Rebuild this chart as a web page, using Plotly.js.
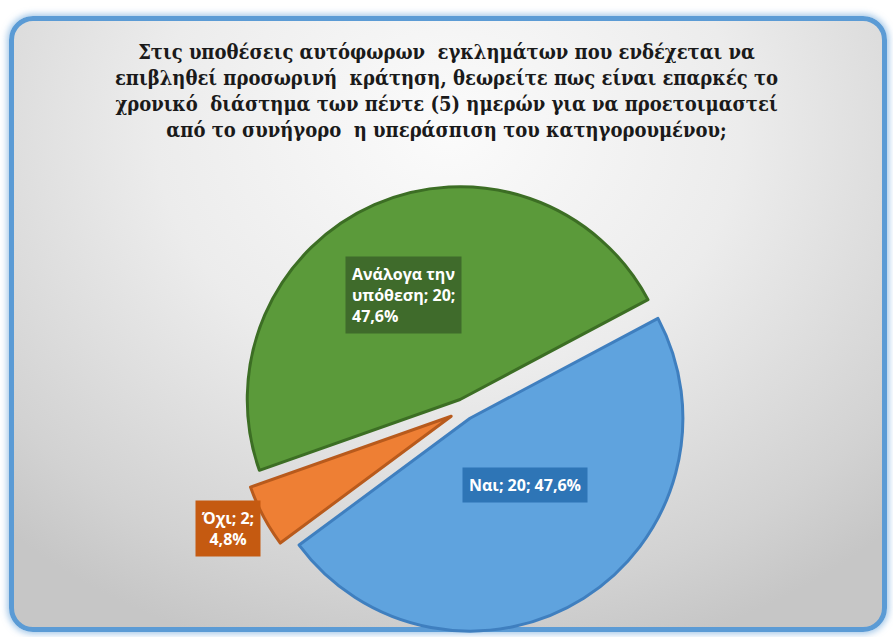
<!DOCTYPE html>
<html>
<head>
<meta charset="utf-8">
<script src="https://cdn.plot.ly/plotly-3.0.1.min.js"></script>
<style>
  html, body { margin:0; padding:0; background:#ffffff; }
  #wrap { position:relative; width:893px; height:637px; overflow:hidden; background:#ffffff; }
  #frame { position:absolute; left:9px; top:16px; width:868px; height:606px;
    border:5px solid #5b9bd5; border-radius:24px;
    box-shadow: 0 0 6px 2px rgba(91,155,213,0.55);
    background: radial-gradient(ellipse 75% 90% at 50% 18%, #fbfbfb 0%, #ececec 45%, #d2d2d2 85%, #c6c6c6 100%); }
  #chart { position:absolute; left:0; top:0; width:893px; height:637px; }
</style>
</head>
<body>
<div id="wrap">
  <div id="frame"></div>
  <div id="chart"></div>
</div>
<script>
const labels = ["Ναι", "Όχι", "Ανάλογα την υπόθεση"];
const values = [20, 2, 20];
const sliceColors = ["#5fa3de", "#ee7f34", "#5b9a3a"];
const edgeColors = ["#3f7fbf", "#b85a1c", "#3c6e24"];
const boxColors = ["#2e75b6", "#c55a11", "#3f6b2b"];
const titleText = "Στις υποθέσεις αυτόφωρων  εγκλημάτων που ενδέχεται να<br>επιβληθεί προσωρινή  κράτηση, θεωρείτε πως είναι επαρκές το<br>χρονικό  διάστημα των πέντε (5) ημερών για να προετοιμαστεί<br>από το συνήγορο  η υπεράσπιση του κατηγορουμένου;";

const total = values.reduce((a, b) => a + b, 0);
function pct(v) { return (v / total * 100).toFixed(1).replace('.', ',') + '%'; }

const labelTexts = [
  labels[0] + '; ' + values[0] + '; ' + pct(values[0]),
  labels[1] + '; ' + values[1] + ';<br>' + pct(values[1]),
  labels[2].replace(' υπόθεση', '<br>υπόθεση') + '; ' + values[2] + ';<br>' + pct(values[2])
];
const labelPos = [
  {x: 0.588, y: 0.239, align: 'center'},
  {x: 0.255, y: 0.171, align: 'center'},
  {x: 0.452, y: 0.537, align: 'left'}
];

const trace = {
  type: 'pie',
  labels: labels,
  values: values,
  sort: false,
  direction: 'clockwise',
  rotation: 62,
  pull: [0.05, 0.07, 0.05],
  textinfo: 'none',
  hoverinfo: 'label+value+percent',
  marker: { colors: sliceColors, line: { color: edgeColors, width: 3 } },
  domain: { x: [0.262, 0.778], y: [0.0, 0.715] },
  showlegend: false
};

const annotations = labelTexts.map((t, i) => ({
  xref: 'paper', yref: 'paper',
  x: labelPos[i].x, y: labelPos[i].y,
  xanchor: 'center', yanchor: 'middle',
  text: '<b>' + t + '</b>',
  align: labelPos[i].align,
  showarrow: false,
  bgcolor: boxColors[i],
  borderpad: 6,
  font: { family: 'Open Sans, Noto Sans, sans-serif', size: 16, color: '#ffffff' }
}));

const layout = {
  width: 893, height: 637,
  margin: { l: 0, r: 0, t: 0, b: 0 },
  paper_bgcolor: 'rgba(0,0,0,0)',
  plot_bgcolor: 'rgba(0,0,0,0)',
  title: {
    text: '<b>' + titleText + '</b>',
    x: 0.5, xanchor: 'center',
    yref: 'container', y: 0.908, yanchor: 'top',
    font: { family: '"DejaVu Serif Condensed", "DejaVu Serif", serif', size: 20, color: '#1a1a1a' }
  },
  annotations: annotations
};

Plotly.newPlot('chart', [trace], layout, { displayModeBar: false, staticPlot: true });
</script>
</body>
</html>
